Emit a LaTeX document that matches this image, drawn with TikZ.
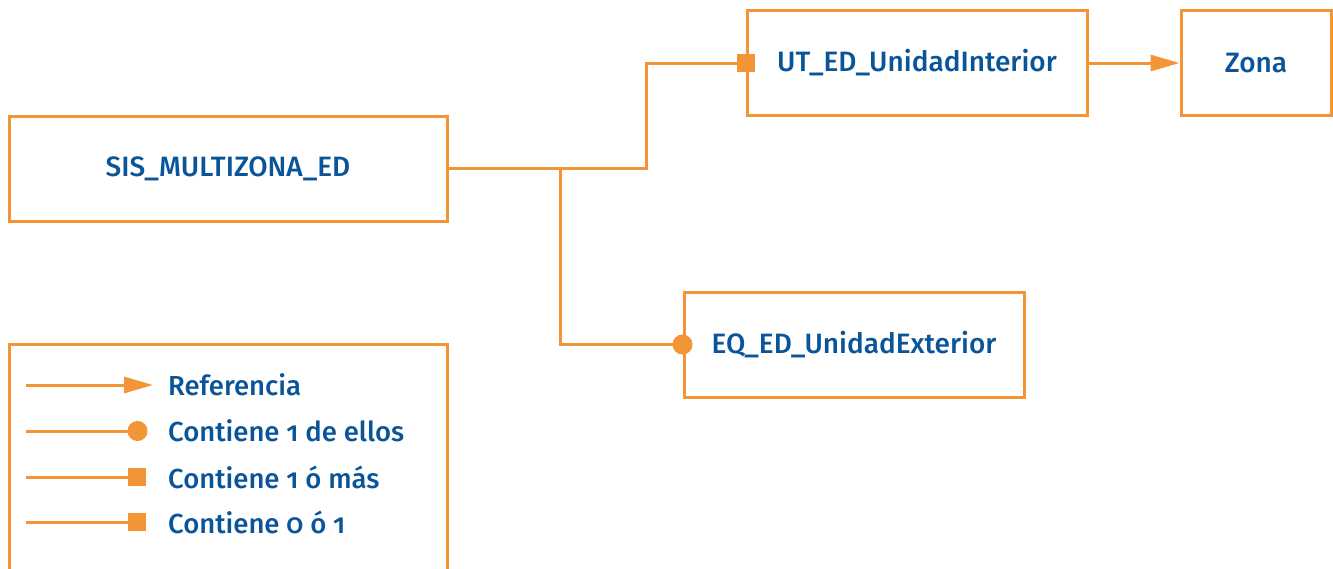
\documentclass[tikz,border=0pt]{standalone}
\usepackage{fontspec}
\setmainfont{Fira Sans}[Numbers=OldStyle,UprightFont=*-Medium]
\usetikzlibrary{arrows.meta,calc}
\definecolor{lineorange}{HTML}{F39536}
\definecolor{textblue}{HTML}{0A5499}
\tikzset{
  entity/.style={draw=lineorange, line width=3pt, minimum height=105pt,
    text=textblue, font=\fontsize{28}{31}\selectfont, inner sep=0pt},
  link/.style={draw=lineorange, line width=3pt},
  legtext/.style={text=textblue, font=\fontsize{27.5}{30}\selectfont, anchor=west, inner sep=0pt},
  refarrow/.style={-{Triangle[length=29pt,width=16pt]}},
  oneof/.style={-{Circle[length=20pt]}, shorten >=-10pt},
  oneplus/.style={-{Square[length=18pt,width=18pt]}, shorten >=-9pt},
}
\begin{document}
\begin{tikzpicture}[x=1pt,y=-1pt]
\useasboundingbox (0,0) rectangle (1333,568);
\fill[white] (0,0) rectangle (1333,568);

% entities
\node[entity, minimum width=438pt] (sis) at (228,168.5) {SIS\_MULTIZONA\_ED};
\node[entity, minimum width=340pt] (ut)  at (917,63) {UT\_ED\_UnidadInterior};
\node[entity, minimum width=150pt] (zona) at (1256,63) {Zona};
\node[entity, minimum width=340pt] (eq)  at (854,344.5) {EQ\_ED\_UnidadExterior};

% relations
\coordinate (fork) at (560,168.5);
\draw[link, oneplus] (sis.east) -- (646,168.5) |- (ut.west);
\draw[link, oneof] (fork) |- (eq.west);
\draw[link, refarrow] (ut.east) -- (zona.west);

% legend frame, open at the bottom edge
\begin{scope}
\clip (0,0) rectangle (1333,568);
\draw[link] (9,575) -- (9,344) -- (447,344) -- (447,575);
\end{scope}

\coordinate (l1a) at (26,385);  \coordinate (l1b) at (153,385);
\coordinate (l2a) at (26,431);  \coordinate (l2b) at (137.5,431);
\coordinate (l3a) at (26,477);  \coordinate (l3b) at (137,477);
\coordinate (l4a) at (26,522);  \coordinate (l4b) at (137,522);
\draw[link, refarrow] (l1a) -- (l1b);
\draw[link, oneof] (l2a) -- (l2b);
\draw[link, oneplus] (l3a) -- (l3b);
\draw[link, oneplus] (l4a) -- (l4b);

\node[legtext] (t1) at (168,385) {Referencia};
\node[legtext] (t2) at (168,431) {Contiene 1 de ellos};
\node[legtext] (t3) at (168,477) {Contiene 1 ó más};
\node[legtext] (t4) at (168,522) {Contiene 0 ó 1};
\end{tikzpicture}
\end{document}
